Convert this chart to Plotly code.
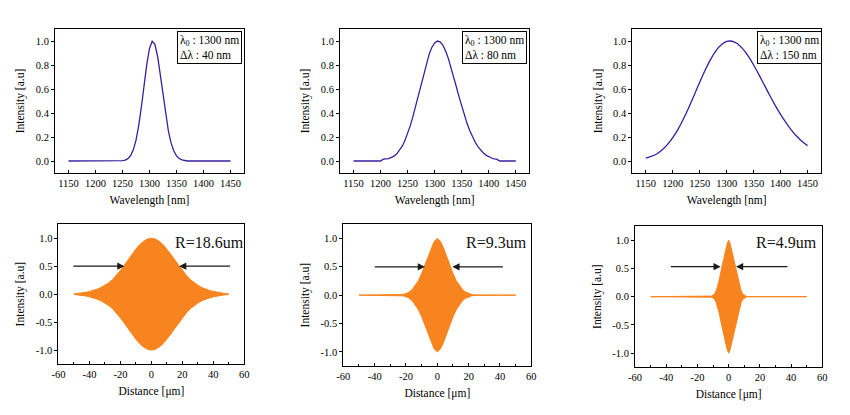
import plotly.graph_objects as go

# ---------------- data ----------------
wl_fine = list(range(1150, 1455, 5))          # 5 nm grid for the 40 / 80 nm spectra
wl_coarse = list(range(1150, 1460, 10))       # 10 nm grid for the 150 nm spectrum

spec_40 = [0, 0, 0, 0, 0, 0, 0, 0, 0, 0, 0, 0, 0, 0, 0, 0, 0, 0, 0, 0,
           0.003, 0.008, 0.02, 0.045, 0.093, 0.174, 0.295, 0.454, 0.635, 0.808,
           0.939, 0.998, 0.973, 0.871, 0.717, 0.545, 0.382, 0.248, 0.149, 0.083,
           0.043, 0.021, 0.01, 0.004,
           0, 0, 0, 0, 0, 0, 0, 0, 0, 0, 0, 0, 0, 0, 0, 0, 0]

spec_80 = [0, 0, 0, 0, 0, 0, 0, 0, 0, 0, 0,
           0.015, 0.015, 0.02, 0.03, 0.04, 0.06, 0.087, 0.123, 0.17, 0.227,
           0.295, 0.374, 0.46, 0.552, 0.646, 0.737, 0.821, 0.893, 0.948, 0.984,
           1.0, 0.993, 0.966, 0.92, 0.859, 0.786, 0.706, 0.621, 0.537, 0.456,
           0.381, 0.312, 0.252, 0.199, 0.156, 0.12, 0.09, 0.067, 0.049, 0.036,
           0.025, 0.018, 0.015,
           0, 0, 0, 0, 0, 0, 0]

spec_150 = [0.025, 0.038, 0.058, 0.091, 0.136, 0.194, 0.266, 0.352, 0.448, 0.551,
            0.656, 0.756, 0.845, 0.917, 0.968, 0.996, 0.998, 0.977, 0.934, 0.874,
            0.800, 0.718, 0.632, 0.546, 0.464, 0.388, 0.319, 0.258, 0.206, 0.162, 0.128]

z_1 = [-50, -47.5, -45, -42.5, -40, -37.5, -35, -32.5, -30, -27.5, -25, -22.5, -20,
       -17.5, -15, -12.5, -10, -7.5, -5, -2.5, 0, 2.5, 5, 7.5, 10, 12.5, 15, 17.5,
       20, 22.5, 25, 27.5, 30, 32.5, 35, 37.5, 40, 42.5, 45, 47.5, 50]
env_1 = [0.005, 0.011, 0.02, 0.032, 0.048, 0.067, 0.09, 0.12, 0.16, 0.205, 0.263,
         0.339, 0.425, 0.519, 0.618, 0.716, 0.807, 0.887, 0.948, 0.987, 1.0,
         0.987, 0.948, 0.887, 0.807, 0.716, 0.618, 0.519, 0.425, 0.339, 0.263,
         0.205, 0.16, 0.12, 0.09, 0.067, 0.048, 0.032, 0.02, 0.011, 0.005]

z_2 = [-50, -24, -22, -20, -18, -16, -14, -12, -10, -8, -6, -4, -2, 0,
       2, 4, 6, 8, 10, 12, 14, 16, 18, 20, 22, 24, 50]
env_2 = [0, 0.004, 0.012, 0.028, 0.055, 0.10, 0.17, 0.26, 0.38, 0.52, 0.68, 0.83, 0.95,
         1.0, 0.95, 0.83, 0.68, 0.52, 0.38, 0.26, 0.17, 0.10, 0.055, 0.028, 0.012, 0.004, 0]

z_3 = [-50, -12, -11, -10, -9, -8, -7, -6, -5, -4, -3, -2, -1, 0,
       1, 2, 3, 4, 5, 6, 7, 8, 9, 10, 11, 12, 50]
env_3 = [0, 0, 0.01, 0.025, 0.05, 0.10, 0.19, 0.30, 0.44, 0.57, 0.69, 0.81, 0.93, 1.0,
         0.93, 0.81, 0.69, 0.57, 0.44, 0.30, 0.19, 0.10, 0.05, 0.025, 0.01, 0, 0]

widths = ["40", "80", "150"]
coherence = ["R=18.6um", "R=9.3um", "R=4.9um"]
# arrow tails / tips (x in µm) and height
arrow_left = [(-51.4, -17.4), (-40.9, -7.9), (-38.0, -5.1)]
arrow_right = [(51.8, 17.9), (42.8, 9.6), (38.6, 4.7)]
arrow_y = [0.5, 0.5, 0.53]

wl_ticks = [1150, 1200, 1250, 1300, 1350, 1400, 1450]
int_ticks = [0.0, 0.2, 0.4, 0.6, 0.8, 1.0]
int_ticktext = ["0.0", "0.2", "0.4", "0.6", "0.8", "1.0"]
z_ticks = [-60, -40, -20, 0, 20, 40, 60]
z_ticktext = ["-60", "-40", "-20", "0", "20", "40", "60"]
amp_ticks = [-1.0, -0.5, 0.0, 0.5, 1.0]
amp_ticktext = ["-1.0", "-0.5", "0.0", "0.5", "1.0"]

# ---------------- styling ----------------
FONT = "Liberation Serif, Times New Roman, serif"
BLUE = "#3322A0"
ORANGE = "#F7841F"

top_x_dom = [[0.0647, 0.2871], [0.4, 0.6227], [0.7439, 0.9659]]
top_y_dom = [0.5831, 0.9301]
bot_x_dom = [[0.0688, 0.2874], [0.4039, 0.6251], [0.7471, 0.9674]]
bot_y_dom = [[0.1229, 0.4595], [0.1181, 0.4595], [0.1149, 0.4554]]

fig = go.Figure()

spectra = [(wl_fine, spec_40, "linear"), (wl_fine, spec_80, "linear"), (wl_coarse, spec_150, "spline")]
for i, (xs, ys, shape) in enumerate(spectra):
    n = i + 1
    fig.add_trace(go.Scatter(x=xs, y=ys, mode="lines", line=dict(color=BLUE, width=1.3, shape=shape),
                             xaxis=f"x{n if n > 1 else ''}", yaxis=f"y{n if n > 1 else ''}",
                             showlegend=False, hoverinfo="skip"))

envs = [(z_1, env_1), (z_2, env_2), (z_3, env_3)]
for i, (zs, es) in enumerate(envs):
    n = i + 4
    fig.add_trace(go.Scatter(x=zs, y=es, mode="lines", line=dict(color=ORANGE, width=1),
                             xaxis=f"x{n}", yaxis=f"y{n}", showlegend=False, hoverinfo="skip"))
    fig.add_trace(go.Scatter(x=zs, y=[-e for e in es], mode="lines", line=dict(color=ORANGE, width=1),
                             fill="tonexty", fillcolor=ORANGE,
                             xaxis=f"x{n}", yaxis=f"y{n}", showlegend=False, hoverinfo="skip"))

axis_common = dict(showline=True, linecolor="black", linewidth=1, mirror=True,
                   showgrid=False, zeroline=False, automargin=False,
                   tickfont=dict(family=FONT, size=10.5, color="black"),
                   ticklen=3, tickwidth=1, tickcolor="black")
title_font = dict(family=FONT, size=11.5, color="black")

layout = dict(width=850, height=415, margin=dict(l=0, r=0, t=0, b=0),
              paper_bgcolor="white", plot_bgcolor="white", showlegend=False,
              font=dict(family=FONT, color="black"))

for i in range(3):
    n = i + 1
    sx = "" if n == 1 else str(n)
    layout[f"xaxis{sx}"] = dict(axis_common, domain=top_x_dom[i], anchor=f"y{sx}",
                                range=[1125, 1475], tickvals=wl_ticks, ticks="inside",
                                title=dict(text="Wavelength [nm]", font=title_font, standoff=8))
    layout[f"yaxis{sx}"] = dict(axis_common, domain=top_y_dom, anchor=f"x{sx}",
                                range=[-0.1, 1.1], tickvals=int_ticks, ticktext=int_ticktext,
                                ticks="outside",
                                title=dict(text="Intensity [a.u]", font=title_font, standoff=8))
for i in range(3):
    n = i + 4
    layout[f"xaxis{n}"] = dict(axis_common, domain=bot_x_dom[i], anchor=f"y{n}",
                               range=[-60, 60], tickvals=z_ticks, ticktext=z_ticktext,
                               ticks="inside",
                               minor=dict(dtick=10, ticks="inside", ticklen=2, tickcolor="black"),
                               title=dict(text="Distance [μm]", font=title_font, standoff=8))
    layout[f"yaxis{n}"] = dict(axis_common, domain=bot_y_dom[i], anchor=f"x{n}",
                               range=[-1.25, 1.25], tickvals=amp_ticks, ticktext=amp_ticktext,
                               ticks="outside",
                               title=dict(text="Intensity [a.u]", font=title_font, standoff=8))

fig.update_layout(**layout)

# legend-like boxes in the top row
for i in range(3):
    n = i + 1
    sx = "" if n == 1 else str(n)
    fig.add_annotation(xref=f"x{sx} domain", yref=f"y{sx} domain", x=1, y=1,
                       xanchor="right", yanchor="top", xshift=-2 if i < 2 else 1, yshift=-2,
                       text=f"λ<sub>0</sub> : 1300 nm<br>Δλ : {widths[i]} nm", align="left",
                       showarrow=False, bordercolor="black", borderwidth=1, borderpad=2,
                       bgcolor="white", font=dict(family=FONT, size=11.5, color="black"))

# arrows and coherence-length labels in the bottom row
label_shift = [2, -2, -3]
label_y = [0.93, 0.93, 0.957]
for i in range(3):
    n = i + 4
    for tail, tip in (arrow_left[i], arrow_right[i]):
        fig.add_annotation(xref=f"x{n}", yref=f"y{n}", axref=f"x{n}", ayref=f"y{n}",
                           x=tip, y=arrow_y[i], ax=tail, ay=arrow_y[i], text="",
                           showarrow=True, arrowhead=2, arrowsize=1.2, arrowwidth=1.2,
                           arrowcolor="#1a1a1a", standoff=0, startstandoff=0)
    fig.add_annotation(xref=f"x{n}", yref=f"y{n}", x=60, y=label_y[i], xshift=label_shift[i],
                       xanchor="right", yanchor="middle", text=coherence[i], showarrow=False,
                       font=dict(family=FONT, size=16, color="#111111"))

fig.write_html("out.html", config={"displayModeBar": False},
               post_script="document.body.style.margin='0px';")
